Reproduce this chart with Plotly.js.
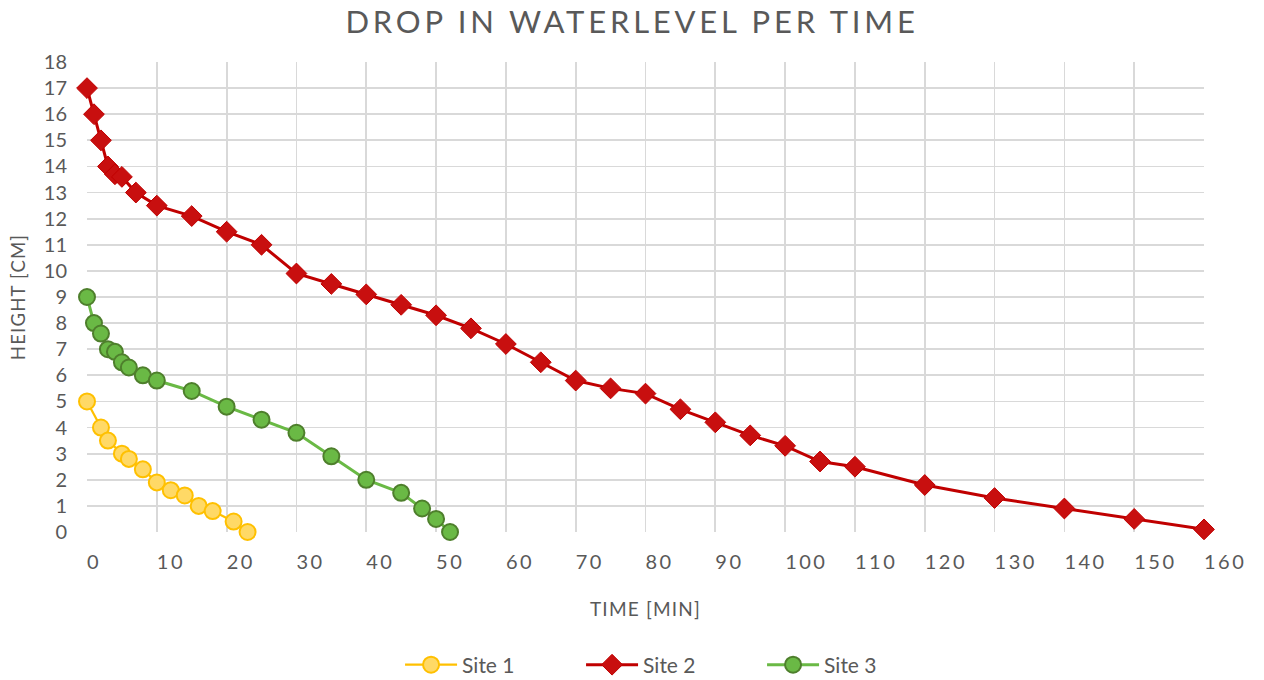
<!DOCTYPE html>
<html>
<head>
<meta charset="utf-8">
<script src="https://cdn.plot.ly/plotly-3.0.1.min.js"></script>
<style>
  html, body { margin: 0; padding: 0; background: #fff; }
  #chart { width: 1264px; height: 680px; }
  .xtick text { letter-spacing: 2.5px; }
  .gtitle { letter-spacing: 3.8px; }
  .xtitle, .ytitle { letter-spacing: 1.2px; }
</style>
</head>
<body>
<div id="chart"></div>
<script>
// Site 1
const site1Time = [0, 2, 3, 5, 6, 8, 10, 12, 14, 16, 18, 21, 23];
const site1Height = [5, 4, 3.5, 3, 2.8, 2.4, 1.9, 1.6, 1.4, 1, 0.8, 0.4, 0];

// Site 2
const site2Time = [0, 1, 2, 3, 4, 5, 7, 10, 15, 20, 25, 30, 35, 40, 45, 50, 55, 60, 65, 70, 75, 80, 85, 90, 95, 100, 105, 110, 120, 130, 140, 150, 160];
const site2Height = [17, 16, 15, 14, 13.7, 13.6, 13, 12.5, 12.1, 11.5, 11, 9.9, 9.5, 9.1, 8.7, 8.3, 7.8, 7.2, 6.5, 5.8, 5.5, 5.3, 4.7, 4.2, 3.7, 3.3, 2.7, 2.5, 1.8, 1.3, 0.9, 0.5, 0.1];

// Site 3
const site3Time = [0, 1, 2, 3, 4, 5, 6, 8, 10, 15, 20, 25, 30, 35, 40, 45, 48, 50, 52];
const site3Height = [9, 8, 7.6, 7, 6.9, 6.5, 6.3, 6, 5.8, 5.4, 4.8, 4.3, 3.8, 2.9, 2, 1.5, 0.9, 0.5, 0];

const xTickVals = [0, 10, 20, 30, 40, 50, 60, 70, 80, 90, 100, 110, 120, 130, 140, 150, 160];
const yTickVals = [0, 1, 2, 3, 4, 5, 6, 7, 8, 9, 10, 11, 12, 13, 14, 15, 16, 17, 18];

const FONT = 'Lato, "Open Sans", sans-serif';
const TXT = '#595959';

const traces = [
  {
    x: site1Time, y: site1Height, name: 'Site 1', type: 'scatter', mode: 'lines+markers',
    line: { color: '#FFC000', width: 2.25 },
    marker: { symbol: 'circle', size: 16, color: '#FFD966', line: { color: '#FFC000', width: 2 } },
    cliponaxis: false
  },
  {
    x: site2Time, y: site2Height, name: 'Site 2', type: 'scatter', mode: 'lines+markers',
    line: { color: '#C00000', width: 3 },
    marker: { symbol: 'diamond', size: 16, color: '#C80F0F', line: { color: '#C00000', width: 1 } },
    cliponaxis: false
  },
  {
    x: site3Time, y: site3Height, name: 'Site 3', type: 'scatter', mode: 'lines+markers',
    line: { color: '#6AB945', width: 3 },
    marker: { symbol: 'circle', size: 16, color: '#6AB945', line: { color: '#4E7F2C', width: 2 } },
    cliponaxis: false
  }
];

const layout = {
  width: 1264, height: 680,
  margin: { l: 87, r: 60, t: 62, b: 148 },
  paper_bgcolor: '#ffffff', plot_bgcolor: '#ffffff',
  font: { family: FONT, color: TXT, size: 19 },
  title: {
    text: 'DROP IN WATERLEVEL PER TIME',
    font: { family: FONT, size: 31, color: TXT },
    x: 0.5, xref: 'container', xanchor: 'center',
    y: 0.968, yref: 'container', yanchor: 'middle'
  },
  xaxis: {
    range: [0, 160], tickvals: xTickVals, ticktext: xTickVals.map(String),
    showgrid: true, gridcolor: '#D9D9D9', gridwidth: 1.75,
    zeroline: false, showline: false, ticks: '',
    ticklabelposition: 'outside right', ticklabelstandoff: 16,
    tickfont: { family: FONT, size: 20, color: TXT },
    title: { text: 'TIME [MIN]', font: { family: FONT, size: 19, color: TXT }, standoff: 30 }
  },
  yaxis: {
    range: [0, 18], tickvals: yTickVals, ticktext: yTickVals.map(String),
    showgrid: true, gridcolor: '#D9D9D9', gridwidth: 1.75,
    zeroline: false, showline: false, ticks: '',
    ticklabelstandoff: 19,
    tickfont: { family: FONT, size: 20, color: TXT },
    title: { text: 'HEIGHT [CM]', font: { family: FONT, size: 18.5, color: TXT }, standoff: 13 }
  },
  showlegend: true,
  legend: {
    orientation: 'h', xref: 'container', yref: 'container',
    x: 0.3165, xanchor: 'left', y: 0.022, yanchor: 'middle',
    font: { family: FONT, size: 21, color: TXT },
    itemwidth: 52, entrywidth: 114, tracegroupgap: 0
  },
  hovermode: false
};

Plotly.newPlot('chart', traces, layout, { displayModeBar: false, staticPlot: true });
</script>
</body>
</html>
